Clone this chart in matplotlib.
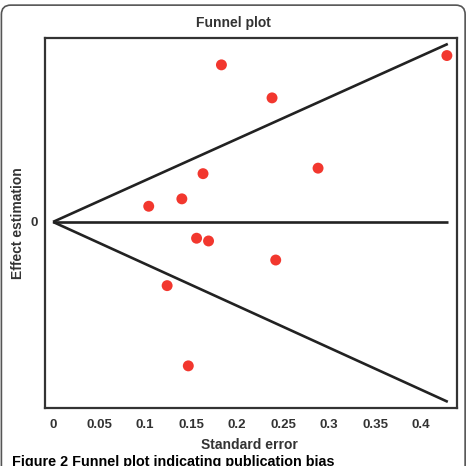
import matplotlib
matplotlib.use('Agg')
import matplotlib.pyplot as plt
from matplotlib.patches import FancyBboxPatch

matplotlib.rc('font', family=['Liberation Sans', 'DejaVu Sans'], weight='bold')

# study points: standard error vs effect estimate
std_err = [0.183, 0.238, 0.428, 0.288, 0.163, 0.140, 0.104,
           0.156, 0.169, 0.124, 0.147, 0.242]
effect = [0.742, 0.586, 0.786, 0.254, 0.228, 0.109, 0.074,
          -0.077, -0.090, -0.301, -0.680, -0.180]

# funnel boundaries
funnel_se = [0.0, 0.429]
funnel_upper = [0.0, 0.841]
funnel_lower = [0.0, -0.850]
funnel_mid = [0.0, 0.0]

xticks = [0, 0.05, 0.1, 0.15, 0.2, 0.25, 0.3, 0.35, 0.4]
xticklabels = ['0', '0.05', '0.1', '0.15', '0.2', '0.25', '0.3', '0.35', '0.4']

txt = '#333333'
fig = plt.figure(figsize=(4.67, 4.66), dpi=100)
ax = fig.add_axes([0.0964, 0.1245, 0.8822, 0.794])

line_kw = dict(color='#222222', lw=1.9, solid_capstyle='butt')
ax.plot(funnel_se, funnel_upper, **line_kw)
ax.plot(funnel_se, funnel_lower, **line_kw)
ax.plot(funnel_se, funnel_mid, **line_kw)
ax.scatter(std_err, effect, s=62, color='#f2372e', edgecolors='none', zorder=3)

ax.set_xlim(-0.0087, 0.439)
ax.set_ylim(-0.879, 0.869)
ax.set_xticks(xticks)
ax.set_xticklabels(xticklabels)
ax.set_yticks([0])
ax.set_yticklabels(['0'])
ax.tick_params(axis='x', length=0, pad=8, labelsize=9.5, labelcolor=txt)
ax.tick_params(axis='y', length=0, pad=5, labelsize=9.5, labelcolor=txt)
for s in ax.spines.values():
    s.set_color('#333333')
    s.set_linewidth(1.6)

fig.text(0.5, 0.9506, 'Funnel plot', ha='center', va='center', fontsize=10, color=txt)
fig.text(249 / 467, 1 - 445 / 466, 'Standard error', ha='center', va='center',
         fontsize=10, color=txt)
fig.text(18 / 467, 1 - 223 / 466, 'Effect estimation', ha='center', va='center',
         rotation=90, fontsize=10, color=txt)

# caption, cut by the bottom edge as in the source
fig.text(12 / 467, 1 - 455 / 466, 'Figure 2 Funnel plot indicating publication bias',
         ha='left', va='top', fontsize=10.4, color='black')

frame = FancyBboxPatch((0.003, -0.05), 0.993, 1.039,
                       boxstyle='round,pad=0,rounding_size=0.02',
                       transform=fig.transFigure, fill=False,
                       ec='#555555', lw=1.2)
fig.add_artist(frame)

fig.savefig('out.png', dpi=100)
